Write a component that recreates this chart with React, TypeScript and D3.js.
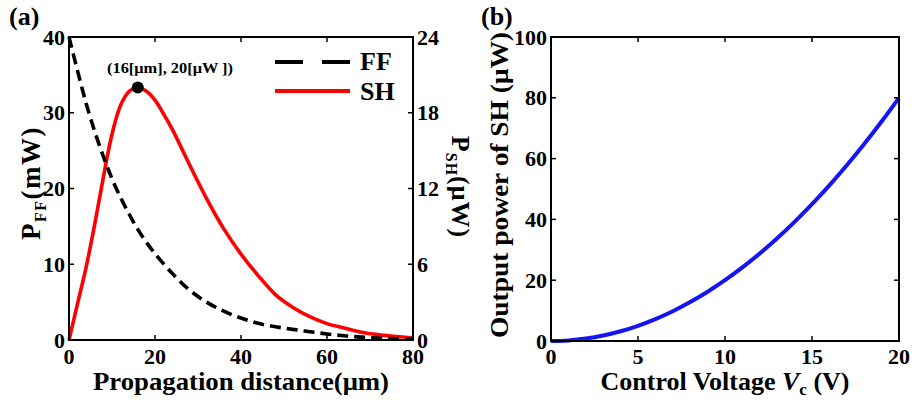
import React from "react";
import * as d3 from "d3";

// ---- Data ----
const ffDistance = [0, 2, 4, 6, 8, 10, 12, 14, 16, 18, 20, 24, 28, 32, 36, 40, 44, 48, 52, 56, 60, 64, 68, 72, 76, 80];
const ffPower = [40, 35.5, 31.2, 27.5, 24.2, 21.3, 18.8, 16.6, 14.6, 12.9, 11.4, 8.8, 6.6, 5.0, 3.8, 2.9, 2.2, 1.75, 1.4, 1.1, 0.8, 0.55, 0.38, 0.25, 0.15, 0.1];

const shDistance = [0, 2, 4, 6, 8, 10, 12, 14, 16, 18, 20, 22, 24, 28, 32, 36, 40, 44, 48, 52, 56, 60, 64, 68, 72, 76, 80];
const shPower = [0, 2.9, 5.8, 9.2, 12.9, 16.3, 18.6, 19.7, 20.0, 19.7, 19.0, 17.9, 16.7, 13.9, 11.2, 8.8, 6.8, 5.1, 3.6, 2.6, 1.85, 1.3, 0.95, 0.62, 0.42, 0.28, 0.18];

const peakPoint = { x: 16, y: 20 };
const peakLabel = "(16[μm], 20[μW ])";

const voltage = [0, 1, 2, 3, 4, 5, 6, 7, 8, 9, 10, 11, 12, 13, 14, 15, 16, 17, 18, 19, 20];
const shOutput = [0, 0.2, 0.8, 1.8, 3.2, 5.0, 7.2, 9.8, 12.8, 16.2, 20, 24.2, 28.8, 33.8, 39.2, 45, 51.2, 57.8, 64.8, 72.2, 80];

const ticksXA = [0, 20, 40, 60, 80];
const ticksFF = [0, 10, 20, 30, 40];
const ticksSH = [0, 6, 12, 18, 24];
const ticksXB = [0, 5, 10, 15, 20];
const ticksYB = [0, 20, 40, 60, 80, 100];

const T = { fontFamily: "Liberation Serif", fontWeight: "bold" as const };

export default function App() {
  const xA = d3.scaleLinear().domain([0, 80]).range([69, 413]);
  const yFF = d3.scaleLinear().domain([0, 40]).range([340, 37]);
  const ySH = d3.scaleLinear().domain([0, 24]).range([340, 37]);
  const xB = d3.scaleLinear().domain([0, 20]).range([551, 899]);
  const yB = d3.scaleLinear().domain([0, 100]).range([341, 37]);

  const ffLine = d3
    .line<number>()
    .x((_, i) => xA(ffDistance[i]))
    .y((d) => yFF(d))
    .curve(d3.curveCatmullRom.alpha(0.5))(ffPower) as string;
  const shLine = d3
    .line<number>()
    .x((_, i) => xA(shDistance[i]))
    .y((d) => ySH(d))
    .curve(d3.curveCatmullRom.alpha(0.5))(shPower) as string;
  const bLine = d3
    .line<number>()
    .x((_, i) => xB(voltage[i]))
    .y((d) => yB(d))
    .curve(d3.curveCatmullRom.alpha(0.5))(shOutput) as string;

  const tickLen = 5;
  const tickFont = 22;
  const [ax0, ax1] = xA.range();
  const [ay0, ay1] = [yFF(0), yFF(40)];
  const [bx0, bx1] = xB.range();
  const [by0, by1] = [yB(0), yB(100)];

  return (
    <svg width={912} height={402} style={{ position: "absolute", left: 0, top: 0, background: "#fff" }}>
      <rect x={0} y={0} width={912} height={402} fill="#fff" />

      {/* ---------- Panel (a) ---------- */}
      <text {...T} x={9} y={25} fontSize={26}>(a)</text>

      {/* curves */}
      <path d={shLine} fill="none" stroke="#ff0000" strokeWidth={3.6} />
      <path d={ffLine} fill="none" stroke="#000" strokeWidth={3.6} strokeDasharray="11,6" />

      {/* frame */}
      <rect x={ax0} y={ay1} width={ax1 - ax0} height={ay0 - ay1} fill="none" stroke="#000" strokeWidth={2} />

      {/* x ticks */}
      {ticksXA.map((t) => (
        <g key={"xa" + t}>
          {t > 0 && t < 80 && (
            <>
              <line x1={xA(t)} x2={xA(t)} y1={ay0} y2={ay0 - tickLen} stroke="#000" strokeWidth={1.5} />
              <line x1={xA(t)} x2={xA(t)} y1={ay1} y2={ay1 + tickLen} stroke="#000" strokeWidth={1.5} />
            </>
          )}
          <text {...T} x={xA(t)} y={364} fontSize={tickFont} textAnchor="middle">{t}</text>
        </g>
      ))}
      {/* left y ticks */}
      {ticksFF.map((t) => (
        <g key={"ff" + t}>
          {t > 0 && t < 40 && (
            <line x1={ax0} x2={ax0 + tickLen} y1={yFF(t)} y2={yFF(t)} stroke="#000" strokeWidth={1.5} />
          )}
          <text {...T} x={65} y={yFF(t) + 7.5} fontSize={tickFont} textAnchor="end">{t}</text>
        </g>
      ))}
      {/* right y ticks */}
      {ticksSH.map((t) => (
        <g key={"sh" + t}>
          {t > 0 && t < 24 && (
            <line x1={ax1} x2={ax1 - tickLen} y1={ySH(t)} y2={ySH(t)} stroke="#000" strokeWidth={1.5} />
          )}
          <text {...T} x={417} y={ySH(t) + 7.5} fontSize={tickFont} textAnchor="start">{t}</text>
        </g>
      ))}

      {/* peak marker & annotation */}
      <circle cx={xA(peakPoint.x)} cy={ySH(peakPoint.y)} r={6} fill="#000" />
      <text {...T} x={170} y={73} fontSize={15} textAnchor="middle" textLength={126} lengthAdjust="spacingAndGlyphs">
        {peakLabel}
      </text>

      {/* legend */}
      <line x1={275} x2={303} y1={62} y2={62} stroke="#000" strokeWidth={4} />
      <line x1={322} x2={350} y1={62} y2={62} stroke="#000" strokeWidth={4} />
      <text {...T} x={360} y={70} fontSize={26}>FF</text>
      <line x1={275} x2={350} y1={91} y2={91} stroke="#ff0000" strokeWidth={4} />
      <text {...T} x={360} y={100} fontSize={26}>SH</text>

      {/* axis titles */}
      <text {...T} x={241} y={390} fontSize={25} textAnchor="middle" textLength={296} lengthAdjust="spacingAndGlyphs">
        Propagation distance(μm)
      </text>
      <text {...T} transform="translate(40,183) rotate(-90)" fontSize={27} textAnchor="middle" letterSpacing={1.5}>
        P<tspan fontSize={16} dy={6}>FF</tspan>
        <tspan dy={-6}>(mW)</tspan>
      </text>
      <text {...T} transform="translate(452,187) rotate(90)" fontSize={26} textAnchor="middle" letterSpacing={1}>
        P<tspan fontSize={16} dy={6}>SH</tspan>
        <tspan dy={-6}>(μW)</tspan>
      </text>

      {/* ---------- Panel (b) ---------- */}
      <text {...T} x={481} y={25} fontSize={26}>(b)</text>

      <path d={bLine} fill="none" stroke="#1414f5" strokeWidth={4} />

      <rect x={bx0} y={by1} width={bx1 - bx0} height={by0 - by1} fill="none" stroke="#000" strokeWidth={2} />

      {ticksXB.map((t) => (
        <g key={"xb" + t}>
          {t > 0 && t < 20 && (
            <>
              <line x1={xB(t)} x2={xB(t)} y1={by0} y2={by0 - tickLen} stroke="#000" strokeWidth={1.5} />
              <line x1={xB(t)} x2={xB(t)} y1={by1} y2={by1 + tickLen} stroke="#000" strokeWidth={1.5} />
            </>
          )}
          <text {...T} x={xB(t)} y={364} fontSize={tickFont} textAnchor="middle">{t}</text>
        </g>
      ))}
      {ticksYB.map((t) => (
        <g key={"yb" + t}>
          {t > 0 && t < 100 && (
            <>
              <line x1={bx0} x2={bx0 + tickLen} y1={yB(t)} y2={yB(t)} stroke="#000" strokeWidth={1.5} />
              <line x1={bx1} x2={bx1 - tickLen} y1={yB(t)} y2={yB(t)} stroke="#000" strokeWidth={1.5} />
            </>
          )}
          <text {...T} x={547} y={yB(t) + 7.5} fontSize={tickFont} textAnchor="end">{t}</text>
        </g>
      ))}

      <text {...T} x={725} y={390} fontSize={26} textAnchor="middle">
        Control Voltage <tspan fontStyle="italic">V</tspan>
        <tspan fontSize={17} dy={5}>c</tspan>
        <tspan dy={-5}> (V)</tspan>
      </text>
      <text {...T} transform="translate(508,185) rotate(-90)" fontSize={26} textAnchor="middle" textLength={306} lengthAdjust="spacingAndGlyphs">
        Output power of SH (μW)
      </text>
    </svg>
  );
}
